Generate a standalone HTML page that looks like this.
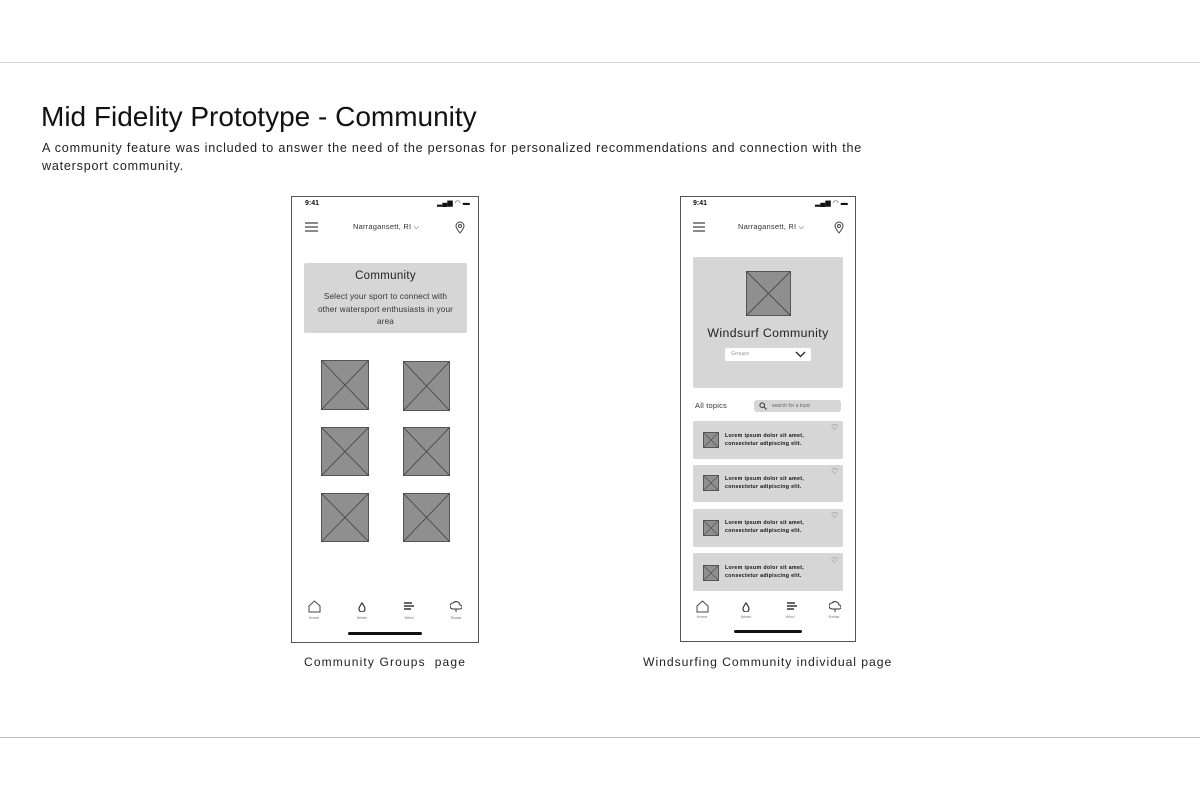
<!DOCTYPE html>
<html><head><meta charset="utf-8"><style>
body{margin:0;width:1200px;height:800px;background:#fff;position:relative;overflow:hidden;font-family:"Liberation Sans",sans-serif;color:#111}
.a{position:absolute}
.hl{position:absolute;left:0;width:1200px;height:1px;background:#d0d0d0}
.ph{position:absolute;border:1px solid #555;background:#fff;box-sizing:border-box}
.g{position:absolute;background:#d6d6d6;border-radius:2px}
.t{position:absolute;white-space:nowrap}
.x{position:absolute}
.nav{position:absolute;font-size:4px;color:#777;text-align:center;width:20px}
.bar{position:absolute;height:3px;background:#111;border-radius:2px}
.lo{position:absolute;white-space:nowrap;font-size:5.3px;line-height:8px;font-weight:bold;letter-spacing:0.3px}
</style></head><body>
<div class="hl" style="top:62px"></div>
<div class="hl" style="top:737px;background:#bbb"></div>
<div class="t" style="left:41px;top:101px;font-size:28px;color:#111">Mid Fidelity Prototype - Community</div>
<div class="t" style="left:42px;top:139px;font-size:12.6px;line-height:18px;letter-spacing:0.77px;color:#222">A community feature was included to answer the need of the personas for personalized recommendations and connection with the<br>watersport community.</div>

<!-- Phone 1 -->
<div class="ph" style="left:291px;top:196px;width:188px;height:447px"></div>
<div class="t" style="left:305px;top:200px;font-size:7px;font-weight:bold">9:41</div>
<div class="t" style="left:437px;top:199px;font-size:7px">▂▄▆ ◠ ▬</div>
<svg class="x" style="left:305px;top:222px" width="13" height="10"><path d="M0 1h13M0 5h13M0 9h13" stroke="#444" stroke-width="1.2"/></svg>
<div class="t" style="left:353px;top:222px;font-size:7.5px;letter-spacing:0.2px;color:#333">Narragansett, RI ⌵</div>
<svg class="x" style="left:455px;top:221px" width="10" height="13"><path d="M5 12C1 7 1 5 1 5a4 4 0 0 1 8 0s0 2-4 7z" fill="none" stroke="#444"/><circle cx="5" cy="5" r="1.5" fill="none" stroke="#444"/></svg>
<div class="g" style="left:304px;top:263px;width:163px;height:70px"></div>
<div class="t" style="left:304px;top:270px;width:163px;text-align:center;font-size:11.5px;letter-spacing:0.3px;color:#222">Community</div>
<div class="t" style="left:304px;top:291px;width:163px;text-align:center;font-size:8.2px;line-height:12.5px;letter-spacing:0.15px;color:#333">Select your sport to connect with<br>other watersport enthusiasts in your<br>area</div>

<svg class="x" style="left:321px;top:360px" width="48" height="50"><rect x=".5" y=".5" width="47" height="49" fill="#8f8f8f" stroke="#555"/><path d="M0 0L48 50M48 0L0 50" stroke="#444" stroke-width=".8"/></svg>
<svg class="x" style="left:403px;top:361px" width="47" height="50"><rect x=".5" y=".5" width="46" height="49" fill="#8f8f8f" stroke="#555"/><path d="M0 0L47 50M47 0L0 50" stroke="#444" stroke-width=".8"/></svg>
<svg class="x" style="left:321px;top:427px" width="48" height="49"><rect x=".5" y=".5" width="47" height="48" fill="#8f8f8f" stroke="#555"/><path d="M0 0L48 49M48 0L0 49" stroke="#444" stroke-width=".8"/></svg>
<svg class="x" style="left:403px;top:427px" width="47" height="49"><rect x=".5" y=".5" width="46" height="48" fill="#8f8f8f" stroke="#555"/><path d="M0 0L47 49M47 0L0 49" stroke="#444" stroke-width=".8"/></svg>
<svg class="x" style="left:321px;top:493px" width="48" height="49"><rect x=".5" y=".5" width="47" height="48" fill="#8f8f8f" stroke="#555"/><path d="M0 0L48 49M48 0L0 49" stroke="#444" stroke-width=".8"/></svg>
<svg class="x" style="left:403px;top:493px" width="47" height="49"><rect x=".5" y=".5" width="46" height="48" fill="#8f8f8f" stroke="#555"/><path d="M0 0L47 49M47 0L0 49" stroke="#444" stroke-width=".8"/></svg>

<svg class="x" style="left:308px;top:600px" width="13" height="13"><path d="M1 12V6L6.5 1 12 6v6z" fill="none" stroke="#444"/></svg>
<svg class="x" style="left:358px;top:602px" width="8" height="10"><path d="M4 1C2 4 1 5 1 7a3 3 0 0 0 6 0c0-2-1-3-3-6z" fill="none" stroke="#333" stroke-width="1.2"/></svg>
<svg class="x" style="left:403px;top:602px" width="12" height="9"><path d="M1 1h8M1 4h10M1 7h7" stroke="#333" stroke-width="1.5"/></svg>
<svg class="x" style="left:450px;top:601px" width="12" height="11"><path d="M3 8a3 3 0 0 1 0-6 4 4 0 0 1 7 2 2 2 0 0 1 0 4z" fill="none" stroke="#333"/><path d="M6 8v3" stroke="#333"/></svg>
<div class="nav" style="left:304px;top:615px">Home</div>
<div class="nav" style="left:352px;top:615px">Water</div>
<div class="nav" style="left:399px;top:615px">Wind</div>
<div class="nav" style="left:446px;top:615px">Radar</div>
<div class="bar" style="left:348px;top:632px;width:74px"></div>
<div class="t" style="left:304px;top:655px;font-size:12px;letter-spacing:1.15px;color:#222">Community Groups&nbsp; page</div>

<!-- Phone 2 -->
<div class="ph" style="left:680px;top:196px;width:176px;height:446px"></div>
<div class="t" style="left:693px;top:200px;font-size:7px;font-weight:bold">9:41</div>
<div class="t" style="left:815px;top:199px;font-size:7px">▂▄▆ ◠ ▬</div>
<svg class="x" style="left:693px;top:222px" width="12" height="10"><path d="M0 1h12M0 5h12M0 9h12" stroke="#444" stroke-width="1.2"/></svg>
<div class="t" style="left:738px;top:222px;font-size:7.5px;letter-spacing:0.2px;color:#333">Narragansett, RI ⌵</div>
<svg class="x" style="left:834px;top:221px" width="10" height="13"><path d="M5 12C1 7 1 5 1 5a4 4 0 0 1 8 0s0 2-4 7z" fill="none" stroke="#444"/><circle cx="5" cy="5" r="1.5" fill="none" stroke="#444"/></svg>
<div class="g" style="left:693px;top:257px;width:150px;height:131px"></div>
<svg class="x" style="left:746px;top:271px" width="45" height="45"><rect x=".5" y=".5" width="44" height="44" fill="#8f8f8f" stroke="#555"/><path d="M0 0L45 45M45 0L0 45" stroke="#444" stroke-width=".8"/></svg>
<div class="t" style="left:693px;top:326px;width:150px;text-align:center;font-size:12.3px;letter-spacing:0.4px;color:#222">Windsurf Community</div>
<div class="a" style="left:725px;top:348px;width:86px;height:13px;background:#fff;border-radius:2px"></div>
<div class="t" style="left:731px;top:351px;font-size:5.5px;color:#999">Groups</div>
<svg class="x" style="left:795px;top:351px" width="11" height="7"><path d="M1 1l4.5 4.5L10 1" fill="none" stroke="#222" stroke-width="1.3"/></svg>
<div class="t" style="left:695px;top:401px;font-size:7.5px;letter-spacing:0.2px;color:#333">All topics</div>
<div class="a" style="left:754px;top:400px;width:87px;height:12px;background:#d6d6d6;border-radius:3px"></div>
<svg class="x" style="left:759px;top:402px" width="8" height="8"><circle cx="3.2" cy="3.2" r="2.3" fill="none" stroke="#333"/><path d="M5 5l2.5 2.5" stroke="#333"/></svg>
<div class="t" style="left:772px;top:403px;font-size:5px;color:#666">search for a topic</div>

<div class="g" style="left:693px;top:421px;width:150px;height:38px"></div>
<div class="g" style="left:693px;top:465px;width:150px;height:37px"></div>
<div class="g" style="left:693px;top:509px;width:150px;height:38px"></div>
<div class="g" style="left:693px;top:553px;width:150px;height:38px"></div>

<svg class="x" style="left:703px;top:432px" width="16" height="16"><rect x=".5" y=".5" width="15" height="15" fill="#8f8f8f" stroke="#555"/><path d="M0 0L16 16M16 0L0 16" stroke="#444" stroke-width=".6"/></svg>
<div class="lo" style="left:725px;top:432px">Lorem ipsum dolor sit amet,<br>consectetur adipiscing elit.</div>
<div class="t" style="left:831px;top:423px;font-size:8px;color:#555">♡</div>
<svg class="x" style="left:703px;top:475px" width="16" height="16"><rect x=".5" y=".5" width="15" height="15" fill="#8f8f8f" stroke="#555"/><path d="M0 0L16 16M16 0L0 16" stroke="#444" stroke-width=".6"/></svg>
<div class="lo" style="left:725px;top:475px">Lorem ipsum dolor sit amet,<br>consectetur adipiscing elit.</div>
<div class="t" style="left:831px;top:467px;font-size:8px;color:#555">♡</div>
<svg class="x" style="left:703px;top:520px" width="16" height="16"><rect x=".5" y=".5" width="15" height="15" fill="#8f8f8f" stroke="#555"/><path d="M0 0L16 16M16 0L0 16" stroke="#444" stroke-width=".6"/></svg>
<div class="lo" style="left:725px;top:519px">Lorem ipsum dolor sit amet,<br>consectetur adipiscing elit.</div>
<div class="t" style="left:831px;top:511px;font-size:8px;color:#555">♡</div>
<svg class="x" style="left:703px;top:565px" width="16" height="16"><rect x=".5" y=".5" width="15" height="15" fill="#8f8f8f" stroke="#555"/><path d="M0 0L16 16M16 0L0 16" stroke="#444" stroke-width=".6"/></svg>
<div class="lo" style="left:725px;top:564px">Lorem ipsum dolor sit amet,<br>consectetur adipiscing elit.</div>
<div class="t" style="left:831px;top:556px;font-size:8px;color:#555">♡</div>

<svg class="x" style="left:696px;top:600px" width="13" height="13"><path d="M1 12V6L6.5 1 12 6v6z" fill="none" stroke="#444"/></svg>
<svg class="x" style="left:742px;top:602px" width="8" height="10"><path d="M4 1C2 4 1 5 1 7a3 3 0 0 0 6 0c0-2-1-3-3-6z" fill="none" stroke="#333" stroke-width="1.2"/></svg>
<svg class="x" style="left:786px;top:602px" width="12" height="9"><path d="M1 1h8M1 4h10M1 7h7" stroke="#333" stroke-width="1.5"/></svg>
<svg class="x" style="left:829px;top:601px" width="12" height="11"><path d="M3 8a3 3 0 0 1 0-6 4 4 0 0 1 7 2 2 2 0 0 1 0 4z" fill="none" stroke="#333"/><path d="M6 8v3" stroke="#333"/></svg>
<div class="nav" style="left:692px;top:614px">Home</div>
<div class="nav" style="left:736px;top:614px">Water</div>
<div class="nav" style="left:780px;top:614px">Wind</div>
<div class="nav" style="left:824px;top:614px">Radar</div>
<div class="bar" style="left:734px;top:630px;width:68px"></div>
<div class="t" style="left:643px;top:655px;font-size:12.2px;letter-spacing:0.95px;color:#222">Windsurfing Community individual page</div>
</body></html>
